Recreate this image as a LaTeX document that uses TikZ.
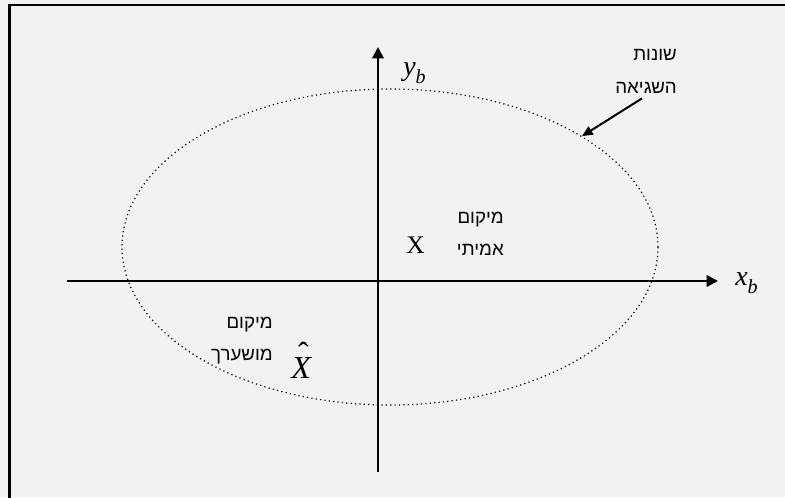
\documentclass[tikz,border=0pt]{standalone}
\usepackage{fontspec}
\setmainfont{Liberation Serif}
\newfontfamily\hebfont[Script=Hebrew]{Liberation Sans}
\newfontfamily\timesit{Liberation Serif Italic}
\TeXXeTstate=1
\usepackage{xcolor}
\usetikzlibrary{arrows.meta, positioning, shapes.geometric, calc}
\definecolor{paper}{HTML}{F2F2F2}
% axis name with a lowered subscript, in Times-like italics
\newcommand{\axname}[2]{{\timesit #1}\raisebox{-6pt}{\fontsize{15}{17}\selectfont\timesit #2}}
% italic X with a hat above it
\newcommand{\esthat}{\ooalign{{\timesit X}\cr\hidewidth\raisebox{0.42em}{\kern0.15em\char"02C6}\hidewidth\cr}}

\begin{document}
\begin{tikzpicture}[
  x=0.75pt, y=-0.75pt,
  every node/.style={inner sep=0pt},
  heb/.style={font=\hebfont\fontsize{14}{16}\selectfont, anchor=base east},
  axis/.style={line width=1.8pt, -{Triangle[length=8.5pt, width=8.5pt]}},
  pointer/.style={line width=1.5pt, -{Triangle[length=8pt, width=7pt]}},
  lbl/.style={font=\fontsize{21}{24}\selectfont, anchor=base west}
]
  \fill[paper] (0,0) rectangle (785,497);
  \clip (0,0) rectangle (785,497);
  \draw[line width=2pt] (9.5,520) |- (800,5);

  % axes
  \coordinate (xs) at (67,281);
  \coordinate (xe) at (718,281);
  \coordinate (ys) at (378,472);
  \coordinate (ye) at (378,47);
  \draw[axis] (xs) -- (xe);
  \draw[axis] (ys) -- (ye);
  \node[lbl] (xb) at (735,285) {\axname{x}{b}};
  \node[lbl] (yb) at (403,75) {\axname{y}{b}};

  % error ellipse
  \node[ellipse, draw, line width=0.9pt, dash pattern=on 0.9pt off 2.4pt,
        minimum width=402pt, minimum height=237pt] (err) at (390,247) {};
  \node[heb] (errA) at (677,60) {\beginR שונות\endR};
  \node[heb] (errB) at (677,93) {\beginR השגיאה\endR};
  \draw[pointer] ([shift={(-4,5)}]errB.south) -- (err.30);

  % true position
  \node[heb] (trueA) at (504,223) {\beginR מיקום\endR};
  \node[heb] (trueB) at (504,255) {\beginR אמיתי\endR};
  \node[font=\fontsize{19}{21}\selectfont, anchor=base west] (truept) at (406,253) {X};

  % estimated position
  \node[heb] (estA) at (273,328) {\beginR מיקום\endR};
  \node[heb] (estB) at (273,360) {\beginR מושערך\endR};
  \node[font=\fontsize{24}{26}\selectfont, anchor=base west] (estpt) at (291,378) {\esthat};
\end{tikzpicture}
\end{document}
